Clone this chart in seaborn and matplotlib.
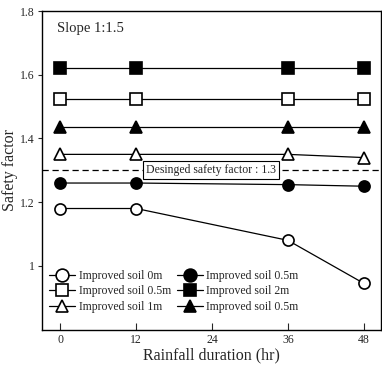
import numpy as np
import pandas as pd
import matplotlib
matplotlib.use("Agg")
import matplotlib.pyplot as plt
import seaborn as sns

# Rainfall duration (hr)
hours = [0, 12, 36, 48]

# Safety factor for each improvement case
sf_0m = [1.18, 1.18, 1.08, 0.945]
sf_05m_open = [1.525, 1.525, 1.525, 1.525]
sf_1m = [1.35, 1.35, 1.35, 1.34]
sf_05m_fill = [1.26, 1.26, 1.255, 1.25]
sf_2m = [1.62, 1.62, 1.62, 1.62]
sf_05m_tri = [1.435, 1.435, 1.435, 1.435]

labels = ["Improved soil 0m", "Improved soil 0.5m", "Improved soil 1m",
          "Improved soil 0.5m", "Improved soil 2m", "Improved soil 0.5m"]
series = [sf_0m, sf_05m_open, sf_1m, sf_05m_fill, sf_2m, sf_05m_tri]
markers = ["o", "s", "^", "o", "s", "^"]
faces = ["white", "white", "white", "black", "black", "black"]

design_sf = 1.3

sns.set_style("ticks")
plt.rcParams['font.family'] = ['Liberation Serif', 'DejaVu Serif']

fig = plt.figure(figsize=(3.82, 3.69), dpi=100)
ax = fig.add_axes([0.110, 0.107, 0.887, 0.863])

for vals, lab, m, fc in zip(series, labels, markers, faces):
    df = pd.DataFrame({"hr": hours, "sf": vals})
    sns.lineplot(data=df, x="hr", y="sf", ax=ax, color="black", lw=0.9,
                 marker=m, markersize=8, markerfacecolor=fc,
                 markeredgecolor="black", markeredgewidth=1.2, label=lab)

ax.axhline(design_sf, color="black", ls=(0, (5, 3)), lw=0.9, zorder=1)
ax.text(23.9, design_sf, "Desinged safety factor : 1.3", ha="center", va="center",
        fontsize=8.5, bbox=dict(boxstyle="square,pad=0.25", fc="white", ec="black", lw=0.8))
ax.text(-0.5, 1.745, "Slope 1:1.5", fontsize=10.5, ha="left", va="center")

ax.set_xlim(-2.9, 50.7)
ax.set_ylim(0.8, 1.8)
ax.set_xticks([0, 12, 24, 36, 48])
ax.set_yticks([1.0, 1.2, 1.4, 1.6, 1.8])
ax.set_yticklabels(["1", "1.2", "1.4", "1.6", "1.8"])
ax.tick_params(axis="x", direction="in", length=5, labelsize=8.5, pad=3)
ax.tick_params(axis="y", direction="out", length=3, labelsize=8.5, pad=2)
ax.set_xlabel("Rainfall duration (hr)", fontsize=11.5, labelpad=1)
ax.set_ylabel("Safety factor", fontsize=11.5, labelpad=2)
for s in ax.spines.values():
    s.set_linewidth(1.0)
    s.set_color("black")

leg = ax.legend(ncol=2, loc="lower left", bbox_to_anchor=(0.0, 0.03), frameon=False,
                fontsize=8.5, handlelength=2.2, handletextpad=0.3, markerscale=1.15,
                columnspacing=0.5, labelspacing=0.3, borderaxespad=0.2)

fig.savefig("out.png", dpi=100)
